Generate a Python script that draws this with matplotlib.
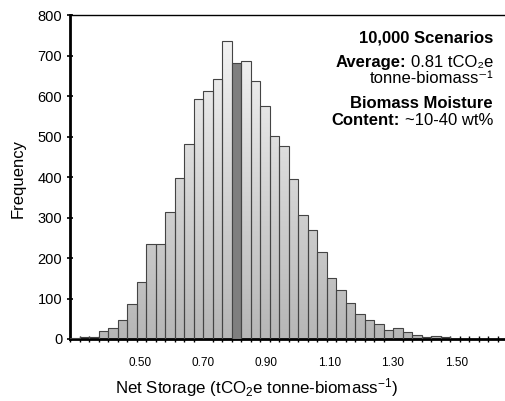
import numpy as np
import matplotlib
matplotlib.use("Agg")
import matplotlib.pyplot as plt
from matplotlib.colors import LinearSegmentedColormap
from matplotlib.ticker import FixedLocator

plt.rcParams['font.family'] = ['Liberation Sans', 'DejaVu Sans']
plt.rcParams['mathtext.fontset'] = 'custom'
plt.rcParams['mathtext.rm'] = 'Liberation Sans'
plt.rcParams['mathtext.it'] = 'Liberation Sans:italic'
plt.rcParams['mathtext.bf'] = 'Liberation Sans:bold'

# histogram bins (0.03 wide, starting at 0.28)
bin_start = 0.28
bin_width = 0.03
counts = [3, 5, 5, 20, 28, 48, 87, 140, 236, 236,
          314, 398, 483, 593, 613, 642, 737, 683, 688, 637,
          576, 502, 477, 396, 307, 270, 216, 150, 121, 89,
          61, 48, 36, 23, 27, 18, 10, 4, 8, 4,
          0, 0, 0, 0, 0, 0]
avg_bin = 17  # bin holding the average (0.81)

x_ticks = [0.50, 0.70, 0.90, 1.10, 1.30, 1.50]
y_ticks = list(range(0, 801, 100))

edges = bin_start + bin_width * np.arange(len(counts))

fig = plt.figure(figsize=(5.06, 4.01), dpi=100)
ax = fig.add_axes([70 / 506, 62 / 401, 440 / 506, 323.7 / 401])

bars = ax.bar(edges, counts, width=bin_width, align='edge', facecolor='none',
              edgecolor='#444444', linewidth=0.8, zorder=3)

# gradient fill: grey at the bottom of the plot, almost white at the top
cmap = LinearSegmentedColormap.from_list('grey', ['#b6b6b6', '#f8f8f8'])
grad = np.linspace(0, 1, 256).reshape(-1, 1)
x_end = bin_start + 440 / 316.7
for i, b in enumerate(bars):
    if i == avg_bin:
        b.set_facecolor('#7f7f7f')
        continue
    if counts[i] == 0:
        continue
    im = ax.imshow(grad, cmap=cmap, origin='lower', aspect='auto',
                   extent=[bin_start, x_end, 0, 800], zorder=2)
    im.set_clip_path(b)

ax.set_xlim(bin_start, x_end)
ax.set_ylim(0, 800)

ax.spines['right'].set_visible(False)
ax.spines['top'].set_linewidth(1.0)
ax.spines['left'].set_linewidth(2.0)
ax.spines['bottom'].set_linewidth(2.0)

ax.set_yticks(y_ticks)
ax.tick_params(axis='y', direction='inout', length=5, width=1.2,
               labelsize=10.5, pad=3)
ax.set_xticks(x_ticks)
ax.set_xticklabels([f"{t:.2f}" for t in x_ticks])
ax.xaxis.set_minor_locator(FixedLocator(bin_start + bin_width * np.arange(len(counts) + 1)))
ax.tick_params(axis='x', which='major', length=0, labelsize=8.5, pad=13)
ax.tick_params(axis='x', which='minor', direction='inout', length=4, width=1)

fig.text(18 / 506, 1 - 178 / 401, 'Frequency', rotation=90, ha='center',
         va='center', fontsize=12)
fig.text(256.7 / 506, 1 - 393.5 / 401,
         r'Net Storage (tCO$_2$e tonne-biomass$^{-1}$)',
         ha='center', va='baseline', fontsize=12.2)

# annotation block, right aligned
fs = 12
rx = 493 / 506
renderer = fig.canvas.get_renderer()


def mixed(y, bold, regular):
    t = fig.text(rx, y, regular, ha='right', va='baseline', fontsize=fs)
    x0 = t.get_window_extent(renderer).x0
    gap = 0.28 * fs * 100 / 72
    fig.text((x0 - gap) / 506, y, bold, ha='right', va='baseline',
             fontsize=fs, fontweight='bold')


fig.text(rx, 1 - 42.7 / 401, '10,000 Scenarios', ha='right', va='baseline',
         fontsize=fs, fontweight='bold')
mixed(1 - 66.7 / 401, 'Average:', '0.81 tCO₂e')
fig.text(rx, 1 - 83 / 401, 'tonne-biomass⁻¹', ha='right',
         va='baseline', fontsize=fs)
fig.text(rx, 1 - 108 / 401, 'Biomass Moisture', ha='right', va='baseline',
         fontsize=fs, fontweight='bold')
mixed(1 - 125 / 401, 'Content:', '~10-40 wt%')

fig.savefig('out.png', dpi=100)
